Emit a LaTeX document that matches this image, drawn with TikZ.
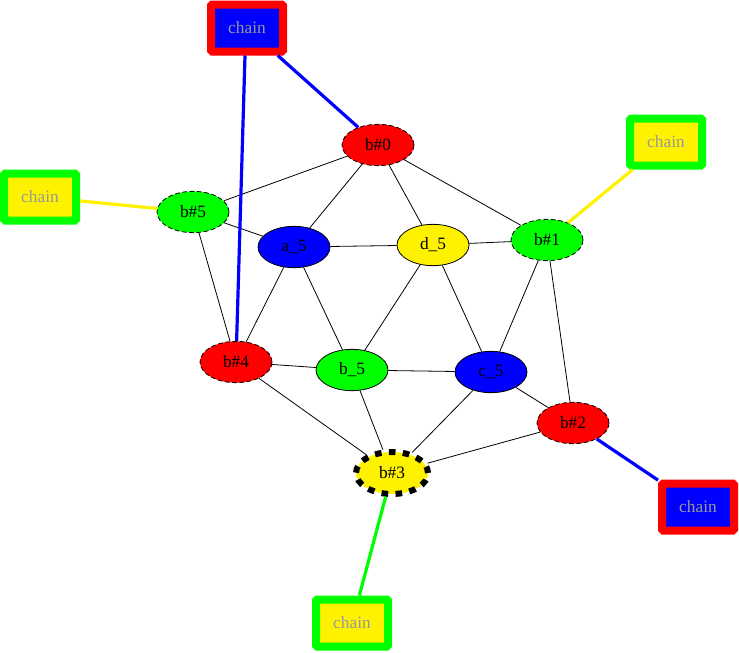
\documentclass[tikz,border=0pt]{standalone}
\usepackage{fontspec}
\setmainfont{Liberation Serif}
\usetikzlibrary{shapes.geometric}

\begin{document}
\begin{tikzpicture}[
  x=0.75pt, y=-0.75pt,
  every node/.style={font=\fontsize{13}{15}\selectfont},
  atom/.style={ellipse, draw=black, line width=0.6pt, minimum width=54pt,
               minimum height=31pt, inner sep=0pt},
  bead/.style={atom, dash pattern=on 3.5pt off 2pt},
  endbead/.style={atom, line width=4.5pt, dash pattern=on 5pt off 5.5pt,
                  minimum height=31.5pt},
  chainbox/.style={rectangle, line width=6pt, rounded corners=1pt,
                   minimum width=54pt, minimum height=35.25pt, inner sep=0pt,
                   text=black!40},
  bond/.style={black, line width=0.6pt},
  link/.style={line width=2.4pt}
]
  \useasboundingbox (0,0) rectangle (739,653);

  % Core of the cage
  \node[atom, fill=blue]   (a5) at (294,247) {a\_5};
  \node[atom, fill=yellow] (d5) at (433,245) {d\_5};
  \node[atom, fill=green]  (b5) at (352,370) {b\_5};
  \node[atom, fill=blue]   (c5) at (491,372) {c\_5};

  % Outer ring of beads
  \node[bead, fill=red]   (b0) at (378,145) {b\#0};
  \node[bead, fill=green] (b1) at (547,240) {b\#1};
  \node[bead, fill=red]   (b2) at (573,423) {b\#2};
  \node[endbead, fill=yellow] (b3) at (392,473) {b\#3};
  \node[bead, fill=red]   (b4) at (236,362) {b\#4};
  \node[bead, fill=green] (b5r) at (193,212) {b\#5};

  % Chain boxes
  \node[chainbox, draw=red, fill=blue]     (chainA) at (247,28)  {chain};
  \node[chainbox, draw=green, fill=yellow] (chainB) at (666,142) {chain};
  \node[chainbox, draw=green, fill=yellow] (chainC) at (40,197)  {chain};
  \node[chainbox, draw=red, fill=blue]     (chainD) at (698,507) {chain};
  \node[chainbox, draw=green, fill=yellow] (chainE) at (352,623) {chain};

  % Bonds
  \draw[bond] (b0) -- (b5r);
  \draw[bond] (b0) -- (a5);
  \draw[bond] (b0) -- (d5);
  \draw[bond] (b0) -- (b1);
  \draw[bond] (b5r) -- (a5);
  \draw[bond] (b5r) -- (b4);
  \draw[bond] (a5) -- (d5);
  \draw[bond] (a5) -- (b4);
  \draw[bond] (a5) -- (b5);
  \draw[bond] (d5) -- (b1);
  \draw[bond] (d5) -- (b5);
  \draw[bond] (d5) -- (c5);
  \draw[bond] (b1) -- (c5);
  \draw[bond] (b1) -- (b2);
  \draw[bond] (b4) -- (b5);
  \draw[bond] (b4) -- (b3);
  \draw[bond] (b5) -- (c5);
  \draw[bond] (b5) -- (b3);
  \draw[bond] (c5) -- (b2);
  \draw[bond] (c5) -- (b3);
  \draw[bond] (b2) -- (b3);

  % Links to the chains
  \draw[link, blue]   (chainA) -- (b0);
  \draw[link, blue]   (chainA.south -| 245,0) -- (b4);
  \draw[link, yellow] (chainB) -- (b1);
  \draw[link, yellow] (chainC) -- (b5r);
  \draw[link, blue]   (chainD) -- (b2);
  \draw[link, green]  (chainE) -- (b3);
\end{tikzpicture}
\end{document}
